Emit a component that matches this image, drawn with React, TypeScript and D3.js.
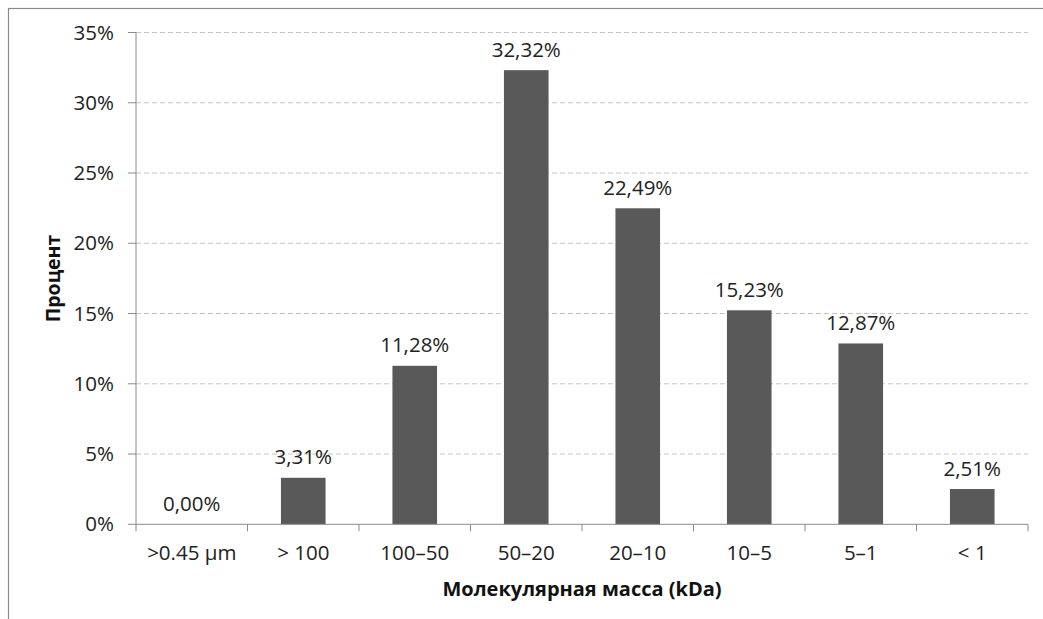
import React from "react";
import * as d3 from "d3";

const categories = [">0.45 µm", "> 100", "100–50", "50–20", "20–10", "10–5", "5–1", "< 1"];
const values = [0.0, 3.31, 11.28, 32.32, 22.49, 15.23, 12.87, 2.51];
const yTicks = [0, 5, 10, 15, 20, 25, 30, 35];
const yAxisTitle = "Процент";
const xAxisTitle = "Молекулярная масса (kDa)";

const W = 1043;
const H = 619;
const left = 136;
const right = 1028;
const top = 32.5;
const bottom = 524.3;
const font = "'Open Sans', 'DejaVu Sans', sans-serif";

export default function App() {
  const x = d3.scaleBand<string>().domain(categories).range([left, right]).paddingInner(0.6).paddingOuter(0.3);
  const xb = d3.scaleBand<string>().domain(categories).range([left, right]);
  const y = d3.scaleLinear().domain([0, 35]).range([bottom, top]);
  const fmt = (v: number) => v.toFixed(2).replace(".", ",") + "%";
  const boundaries = d3.range(categories.length + 1).map((i) => left + i * xb.step());

  return (
    <svg width={W} height={H} style={{ position: "absolute", left: 0, top: 0, background: "#fff" }}>
      <rect x={8.5} y={8.5} width={1100} height={700} fill="#fff" stroke="#8a8a8a" strokeWidth={1.2} />
      {yTicks.filter((t) => t > 0).map((t) => (
        <line key={"g" + t} x1={left} x2={right} y1={y(t)} y2={y(t)} stroke="#c4c4c4" strokeWidth={1} strokeDasharray="5,3" />
      ))}
      {categories.map((c, i) => (
        <rect key={c} x={x(c)} y={y(values[i])} width={x.bandwidth()} height={y(0) - y(values[i])} fill="#595959" />
      ))}
      <line x1={left} x2={left} y1={top} y2={bottom} stroke="#8a8a8a" strokeWidth={1} />
      <line x1={left} x2={right} y1={bottom} y2={bottom} stroke="#8a8a8a" strokeWidth={1} />
      {yTicks.map((t) => (
        <g key={"t" + t}>
          <line x1={left - 8} x2={left} y1={y(t)} y2={y(t)} stroke="#8a8a8a" />
          <text x={114} y={y(t)} dy="0.35em" textAnchor="end" fontFamily={font} fontSize={20.5} fill="#222">
            {t + "%"}
          </text>
        </g>
      ))}
      {boundaries.map((b, i) => (
        <line key={"b" + i} x1={b} x2={b} y1={bottom} y2={bottom + 7} stroke="#8a8a8a" />
      ))}
      {categories.map((c) => (
        <text key={"l" + c} x={xb(c)! + xb.bandwidth() / 2} y={553} dy="0.35em" textAnchor="middle" fontFamily={font} fontSize={20.5} fill="#222">
          {c}
        </text>
      ))}
      {categories.map((c, i) => (
        <text key={"v" + c} x={x(c)! + x.bandwidth() / 2} y={y(values[i]) - 20.5} dy="0.35em" textAnchor="middle" fontFamily={font} fontSize={20.5} fill="#222">
          {fmt(values[i])}
        </text>
      ))}
      <text x={582} y={589} dy="0.35em" textAnchor="middle" fontFamily={font} fontSize={20} fontWeight="bold" fill="#111">
        {xAxisTitle}
      </text>
      <text transform={`translate(53,278.5) rotate(-90)`} dy="0.35em" textAnchor="middle" fontFamily={font} fontSize={19.5} fontWeight="bold" fill="#111">
        {yAxisTitle}
      </text>
    </svg>
  );
}
